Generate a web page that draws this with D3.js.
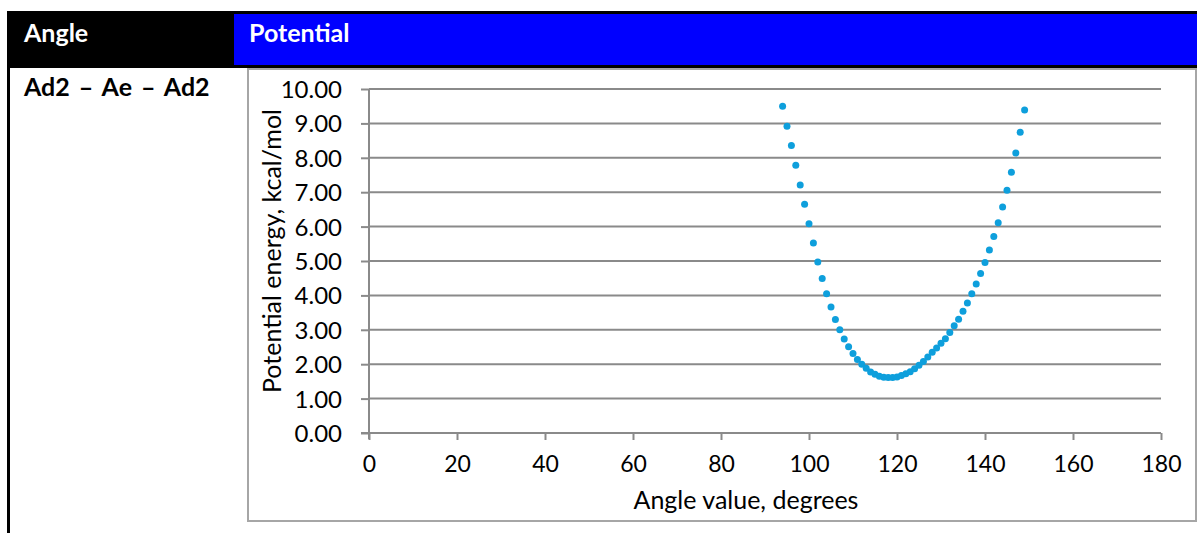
<!DOCTYPE html>
<html><head><meta charset="utf-8">
<script src="https://cdn.jsdelivr.net/npm/d3@7"></script>
<style>
html,body{margin:0;padding:0;background:#fff;}
svg{display:block;}
text{font-family:Lato,"Open Sans",sans-serif;}
</style></head>
<body>
<svg id="c" width="1197" height="533"></svg>
<script>
// ---- data ----
const angles = [94,95,96,97,98,99,100,101,102,103,104,105,106,107,108,109,110,111,112,113,114,115,116,117,118,119,120,121,122,123,124,125,126,127,128,129,130,131,132,133,134,135,136,137,138,139,140,141,142,143,144,145,146,147,148,149];
const energies = [9.50,8.92,8.36,7.78,7.21,6.65,6.08,5.52,4.97,4.49,4.05,3.66,3.30,3.00,2.73,2.51,2.31,2.14,2.00,1.88,1.77,1.71,1.65,1.62,1.61,1.61,1.63,1.67,1.72,1.78,1.87,1.97,2.08,2.21,2.35,2.47,2.61,2.74,2.92,3.12,3.31,3.54,3.78,4.05,4.33,4.64,4.96,5.32,5.71,6.11,6.57,7.06,7.58,8.14,8.74,9.39];
const xTicks = [0,20,40,60,80,100,120,140,160,180];
const yTicks = [0,1,2,3,4,5,6,7,8,9,10];
const headers = ["Angle","Potential"];
const rowLabel = "Ad2 \u2013 Ae \u2013 Ad2";
const xTitle = "Angle value, degrees";
const yTitle = "Potential energy, kcal/mol";

const svg = d3.select("#c");

// table header
svg.append("rect").attr("x",7).attr("y",11).attr("width",1190).attr("height",57).attr("fill","#000");
svg.append("rect").attr("x",234).attr("y",14).attr("width",963).attr("height",51).attr("fill","#0000ff");
svg.append("rect").attr("x",7).attr("y",68).attr("width",3).attr("height",465).attr("fill","#000");
svg.append("text").attr("x",24).attr("y",42).attr("fill","#fff").attr("font-weight","bold").attr("font-size",25).text(headers[0]);
svg.append("text").attr("x",249).attr("y",42).attr("fill","#fff").attr("font-weight","bold").attr("font-size",25).text(headers[1]);
svg.append("text").attr("x",24).attr("y",96).attr("fill","#000").attr("font-weight","bold").attr("font-size",25)
  .attr("word-spacing",3).text(rowLabel);

// chart frame
svg.append("rect").attr("x",248).attr("y",69).attr("width",948).attr("height",452)
  .attr("fill","#fff").attr("stroke","#a6a6a6").attr("stroke-width",2);

const x = d3.scaleLinear().domain([0,180]).range([369,1161]);
const y = d3.scaleLinear().domain([0,10]).range([433,89]);
const grid = "#8a8a8a";

// gridlines
svg.append("g").selectAll("line").data(yTicks.filter(d=>d>0)).join("line")
  .attr("x1",x(0)).attr("x2",x(180)).attr("y1",d=>y(d)).attr("y2",d=>y(d))
  .attr("stroke",grid).attr("stroke-width",2);

// y axis
const yAxis = svg.append("g").attr("transform",`translate(${x(0)},0)`)
  .call(d3.axisLeft(y).tickValues(yTicks).tickFormat(d3.format(".2f")).tickSize(8).tickPadding(19));
yAxis.select(".domain").attr("stroke",grid).attr("stroke-width",2).attr("d",`M0,${y(0)+6}V${y(10)}`);
yAxis.selectAll(".tick line").attr("stroke",grid).attr("stroke-width",2);
yAxis.selectAll(".tick text").attr("font-family","Lato").attr("font-size",24).attr("fill","#000").attr("dy","0.35em");

// x axis
const xAxis = svg.append("g").attr("transform",`translate(0,${y(0)})`)
  .call(d3.axisBottom(x).tickValues(xTicks).tickFormat(d3.format("d")).tickSize(7).tickPadding(16));
xAxis.select(".domain").attr("stroke",grid).attr("stroke-width",2).attr("d",`M${x(0)-8},0H${x(180)}`);
xAxis.selectAll(".tick line").attr("stroke",grid).attr("stroke-width",2);
xAxis.selectAll(".tick text").attr("font-family","Lato").attr("font-size",23).attr("fill","#000");

// points
svg.append("g").selectAll("circle").data(angles.map((a,i)=>[a,energies[i]])).join("circle")
  .attr("cx",d=>x(d[0])).attr("cy",d=>y(d[1])).attr("r",3.5).attr("fill","#0e9fdc");

// titles
svg.append("text").attr("x",746).attr("y",509).attr("text-anchor","middle").attr("font-size",25).attr("fill","#000").text(xTitle);
svg.append("text").attr("transform","translate(281,251) rotate(-90)").attr("text-anchor","middle").attr("font-size",25).attr("fill","#000").text(yTitle);
</script>
</body></html>
